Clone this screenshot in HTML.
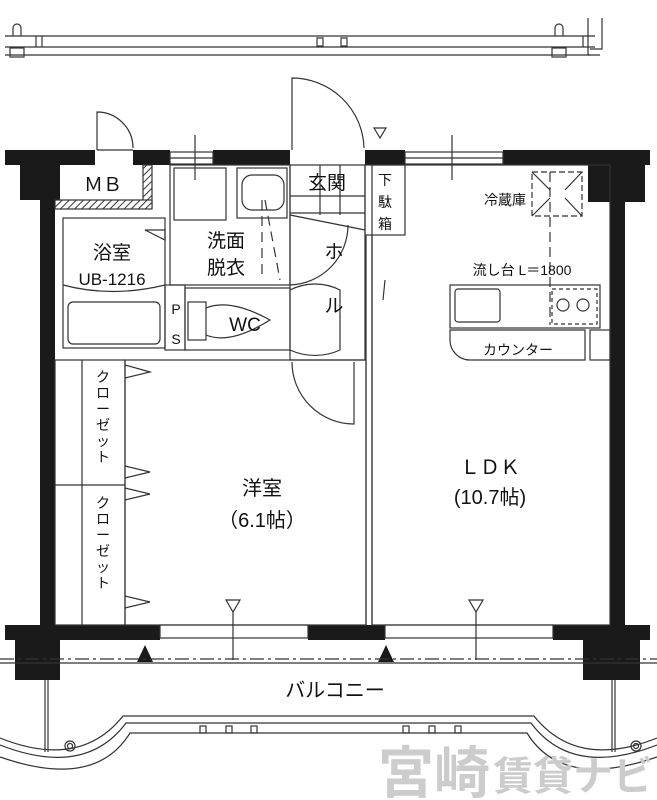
<!DOCTYPE html>
<html><head><meta charset="utf-8"><style>
html,body{margin:0;padding:0;background:#fff;}
svg{display:block;}
text{font-family:"Liberation Sans","Noto Sans CJK JP",sans-serif;fill:#111;}
</style></head><body>
<svg width="657" height="800" viewBox="0 0 657 800" xmlns="http://www.w3.org/2000/svg">
<defs>
<pattern id="h" width="5" height="5" patternUnits="userSpaceOnUse" patternTransform="rotate(45)">
<rect width="5" height="5" fill="#fff"/><line x1="0" y1="0" x2="0" y2="5" stroke="#333" stroke-width="2"/></pattern>
</defs>
<g stroke="#333" fill="none" stroke-width="1.2">
<line x1="5" y1="36" x2="595" y2="36"/><line x1="5" y1="47" x2="595" y2="47"/><line x1="5" y1="55" x2="600" y2="55"/>
<line x1="36" y1="36" x2="36" y2="47"/><line x1="42" y1="36" x2="42" y2="47"/><line x1="583" y1="36" x2="583" y2="47"/>
<polyline points="588,18 588,55 590,55"/><polyline points="602,18 602,49 590,49"/>
<rect x="317" y="38" width="6" height="8"/><rect x="341" y="38" width="6" height="8"/>
<rect x="10" y="48" width="14" height="9"/><rect x="552" y="48" width="14" height="9"/>
<path d="M13 36 V28 a4 4 0 0 1 8 0 V36"/><path d="M555 36 V28 a4 4 0 0 1 8 0 V36"/>
</g>
<g fill="#1a1a1a">
<rect x="5" y="150" width="90" height="15"/>
<rect x="133" y="150" width="37" height="15"/>
<rect x="213" y="150" width="77" height="15"/>
<rect x="365" y="150" width="40" height="15"/>
<rect x="503" y="150" width="147" height="15"/>
<rect x="20" y="150" width="40" height="50"/>
<rect x="40" y="150" width="15" height="480"/>
<rect x="588" y="150" width="57" height="52"/>
<rect x="610" y="150" width="15" height="480"/>
<rect x="5" y="625" width="155" height="15"/>
<rect x="308" y="625" width="77" height="15"/>
<rect x="553" y="625" width="97" height="15"/>
<rect x="15" y="630" width="45" height="50"/>
<rect x="583" y="630" width="57" height="50"/>
<polygon points="145,645 137,662 153,662"/><polygon points="386,645 378,662 394,662"/>
</g>
<g stroke="#333" fill="none" stroke-width="1.2">
<rect x="170" y="152" width="43" height="12"/><line x1="170" y1="158" x2="213" y2="158"/>
<rect x="405" y="152" width="98" height="12"/><line x1="405" y1="158" x2="503" y2="158"/>
<line x1="195" y1="135" x2="195" y2="180"/><line x1="452" y1="135" x2="452" y2="180"/>
<path d="M97 150 V112 A36 36 0 0 1 133 148"/><line x1="97" y1="150" x2="133" y2="150"/>
<path d="M292 150 V78 A72 72 0 0 1 364 148"/>
<polygon points="374,128 386,128 380,138"/>
<rect x="143" y="165" width="9" height="43" fill="url(#h)"/>
<rect x="55" y="200" width="97" height="9" fill="url(#h)"/>
<rect x="63" y="218" width="102" height="130"/>
<path d="M63 285 Q112 298 165 285"/>
<rect x="68" y="302" width="92" height="42" rx="5"/>
<polygon points="165,230 145,230 165,240" />
<rect x="165" y="285" width="20" height="65"/>
<rect x="170" y="165" width="120" height="120"/>
<rect x="174" y="168" width="52" height="52"/>
<rect x="237" y="168" width="50" height="50"/>
<rect x="242" y="175" width="42" height="35" rx="10"/>
<line x1="265" y1="200" x2="280" y2="280" stroke-dasharray="10,6"/>
<line x1="262" y1="200" x2="262" y2="280" stroke-dasharray="10,6"/>
<rect x="185" y="288" width="105" height="62"/>
<rect x="188" y="302" width="18" height="38"/>
<path d="M206 308 Q230 298 270 320 Q230 345 206 335"/>
<rect x="290" y="165" width="75" height="195"/>
<line x1="290" y1="196" x2="365" y2="196"/><line x1="290" y1="213" x2="365" y2="213"/>
<line x1="320" y1="165" x2="320" y2="215"/><line x1="340" y1="165" x2="340" y2="215"/>
<line x1="290" y1="215" x2="365" y2="230"/>
<rect x="365" y="165" width="40" height="70"/>
<path d="M290 285 A60 60 0 0 0 348 225"/>
<path d="M290 290 A55 55 0 0 1 340 290 V350 A60 60 0 0 1 290 350"/>
<line x1="366" y1="235" x2="366" y2="625"/><line x1="372" y1="235" x2="372" y2="625"/>
<line x1="385" y1="280" x2="383" y2="300"/>
<rect x="55" y="360" width="70" height="265"/>
<line x1="55" y1="485" x2="125" y2="485"/>
<line x1="82" y1="360" x2="82" y2="625"/>
<polyline points="125,365 150,372 125,378"/><polyline points="125,466 150,472 125,478"/>
<polyline points="125,488 150,494 125,500"/><polyline points="125,596 150,602 125,608"/>
<rect x="125" y="360" width="241" height="265"/>
<path d="M292 362 A62 62 0 0 0 354 424 V362"/>
<polygon points="226,600 240,600 233,612"/><line x1="233" y1="612" x2="233" y2="660"/>
<rect x="160" y="625" width="148" height="13"/><rect x="385" y="625" width="168" height="13"/>
<polygon points="469,600 483,600 476,612"/><line x1="476" y1="612" x2="476" y2="660"/>
<rect x="372" y="165" width="238" height="460"/>
<rect x="532" y="172" width="50" height="44" stroke-dasharray="6,3"/>
<line x1="550" y1="172" x2="550" y2="325" stroke-dasharray="10,5"/>
<line x1="532" y1="172" x2="550" y2="190"/><line x1="582" y1="172" x2="565" y2="190"/>
<line x1="532" y1="216" x2="550" y2="198"/><line x1="582" y1="216" x2="565" y2="198"/>
<rect x="450" y="285" width="150" height="43"/>
<rect x="455" y="289" width="45" height="33" rx="3"/>
<rect x="552" y="289" width="45" height="35" stroke-dasharray="4,3"/>
<circle cx="563" cy="305" r="6"/><circle cx="583" cy="305" r="6"/>
<path d="M450 330 H585 V360 H470 A20 20 0 0 1 450 340 Z"/>
<rect x="590" y="330" width="20" height="30"/>
<line x1="0" y1="659" x2="657" y2="659" stroke-dasharray="14,4,3,4"/>
<line x1="0" y1="663" x2="657" y2="663"/>
<line x1="45" y1="680" x2="45" y2="752"/><line x1="48" y1="680" x2="48" y2="752"/>
<line x1="612" y1="680" x2="612" y2="752"/><line x1="615" y1="680" x2="615" y2="752"/>
<path d="M0 738 Q80 770 123 716 H534 Q577 770 657 738"/>
<path d="M0 745 Q85 778 126 723 H531 Q572 778 657 745"/>
<path d="M0 757 Q95 790 130 733 H527 Q562 790 657 757"/>
<circle cx="70" cy="746" r="5"/><circle cx="70" cy="746" r="2.5"/>
<circle cx="636" cy="746" r="5"/><circle cx="636" cy="746" r="2.5"/>
<g><rect x="200" y="726" width="6" height="7"/><rect x="226" y="726" width="6" height="7"/><rect x="251" y="726" width="6" height="7"/>
<rect x="403" y="726" width="6" height="7"/><rect x="429" y="726" width="6" height="7"/><rect x="455" y="726" width="6" height="7"/></g>
</g>
<g font-size="19" text-anchor="middle">
<text x="103" y="191">ＭＢ</text>
<text x="112" y="259">浴室</text>
<text x="112" y="285" font-size="17">UB-1216</text>
<text x="226" y="247">洗面</text>
<text x="226" y="274">脱衣</text>
<text x="245" y="331">WC</text>
<text x="327" y="189">玄関</text>
<text x="334" y="258">ホ</text>
<text x="334" y="312">ル</text>
<text x="490" y="474" font-size="20">ＬＤＫ</text>
<text x="490" y="504" font-size="20">(10.7帖)</text>
<text x="262" y="495" font-size="20">洋室</text>
<text x="262" y="527" font-size="20">（6.1帖）</text>
<text x="335" y="697" font-size="20">バルコニー</text>
</g>
<g font-size="14" text-anchor="middle">
<text x="176" y="314">P</text><text x="176" y="344">S</text>
<text x="385" y="185">下</text><text x="385" y="207">駄</text><text x="385" y="229">箱</text>
<text x="505" y="205">冷蔵庫</text>
<text x="522" y="275">流し台 L＝1800</text>
<text x="518" y="355">カウンター</text>
</g>
<g font-size="14" text-anchor="middle">
<text x="103" y="382">ク</text><text x="103" y="398">ロ</text><text x="103" y="414">ー</text><text x="103" y="430">ゼ</text><text x="103" y="446">ッ</text><text x="103" y="462">ト</text>
<text x="103" y="508">ク</text><text x="103" y="524">ロ</text><text x="103" y="540">ー</text><text x="103" y="556">ゼ</text><text x="103" y="572">ッ</text><text x="103" y="588">ト</text>
</g>
<text x="378" y="793" font-size="56" font-weight="bold" style="fill:#ccc">宮崎</text>
<text x="493" y="790" font-size="40" font-weight="bold" style="fill:#ccc">賃貸ナビ</text>
</svg>
</body></html>
